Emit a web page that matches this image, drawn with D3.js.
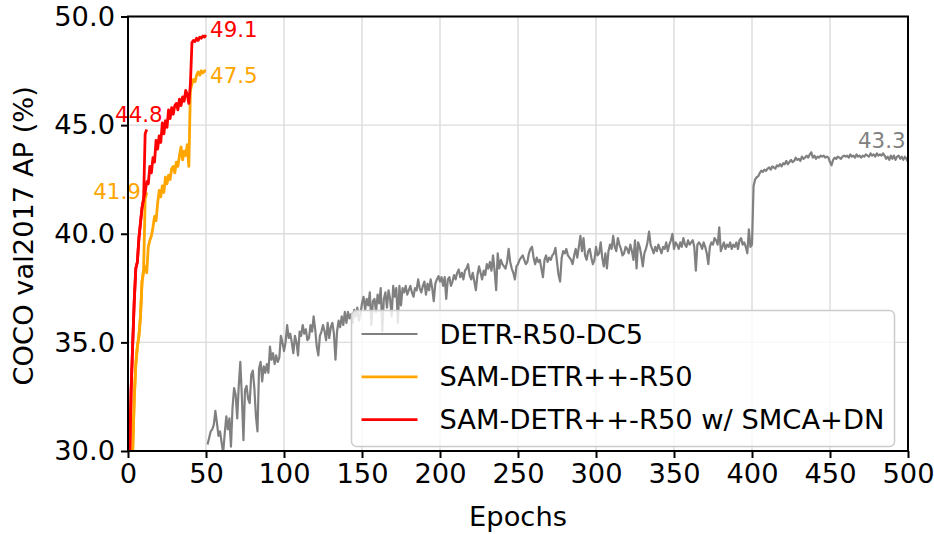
<!DOCTYPE html>
<html><head><meta charset="utf-8">
<script src="https://cdn.jsdelivr.net/npm/d3@7"></script>
<style>body{margin:0;background:#fff} text{font-family:"DejaVu Sans",sans-serif}</style>
</head><body><svg id="chart" width="934" height="534"></svg>
<script>
// ---------- DATA ----------
const xTicks = [0, 50, 100, 150, 200, 250, 300, 350, 400, 450, 500];
const yTicks = [30, 35, 40, 45, 50];
const xLabel = "Epochs";
const yLabel = "COCO val2017 AP (%)";

const seriesNames = ["DETR-R50-DC5", "SAM-DETR++-R50", "SAM-DETR++-R50 w/ SMCA+DN"];
const seriesColors = ["#808080", "#ffa500", "#ff0000"];

// DETR-R50-DC5, one value per epoch starting at epoch 51
const detrFirstEpoch = 51;
const detrValues = [
30.3,30.6,30.9,31.0,31.2,31.85,31.3,30.7,30.9,30.4,29.9,30.8,31.6,31.0,31.5,30.2,32.0,32.9,32.6,31.5,
33.0,34.1,32.5,30.5,32.8,33.0,32.4,32.2,33.5,33.7,32.9,31.6,30.9,33.8,34.1,33.2,33.9,33.6,34.0,33.6,
34.8,34.2,34.5,34.0,34.4,34.1,34.3,35.3,35.0,34.6,
35.0,35.8,35.2,35.4,35.0,34.5,35.3,35.0,34.4,35.5,35.3,35.8,35.4,35.6,35.1,35.2,35.8,35.5,36.2,35.6,
34.8,34.4,35.3,35.5,35.8,35.5,35.1,35.9,35.2,35.7,35.9,35.4,34.2,35.5,36.0,35.7,36.2,35.8,36.4,35.9,
36.4,36.1,36.3,35.9,36.5,36.2,36.6,36.0,36.3,36.8,
37.1,36.5,37.0,36.7,37.3,35.8,36.9,37.0,36.4,37.2,36.8,37.5,35.5,37.0,37.3,36.6,37.4,37.0,36.2,37.6,
37.1,37.5,35.9,37.6,36.7,
37.5,37.3,37.6,37.2,37.4,37.6,37.3,37.1,37.5,37.4,37.9,37.5,37.3,37.6,37.8,37.2,37.7,37.4,37.9,37.5,
36.9,37.7,37.9,38.05,37.8,
38.0,37.6,38.0,37.0,37.9,38.0,37.6,37.8,38.1,37.9,38.2,38.35,38.0,38.2,37.9,38.3,38.4,38.6,38.1,37.9,
38.2,37.8,37.4,38.1,38.5,38.2,37.9,38.3,38.1,38.6,38.4,38.7,38.3,39.0,38.3,37.4,39.1,38.4,38.8,38.6,
38.5,38.4,38.7,39.3,38.7,38.4,38.2,37.9,38.5,38.6,
38.8,38.9,39.0,38.8,38.6,38.7,39.1,39.3,39.4,38.9,38.6,38.9,38.7,38.8,38.4,38.0,38.8,39.0,38.7,38.9,
38.8,39.0,39.1,39.35,38.7,38.1,37.8,38.9,39.2,39.1,39.3,39.0,38.9,38.8,38.6,39.0,39.3,38.9,39.4,39.9,
39.2,39.8,39.0,38.8,39.2,39.3,38.9,38.6,38.8,39.4,
39.0,39.1,39.6,38.9,38.5,39.1,38.4,39.2,39.5,39.3,39.9,39.4,39.2,39.8,39.5,39.3,39.0,39.1,39.4,39.3,
39.1,39.5,39.2,38.8,39.7,38.4,39.6,39.4,39.0,38.5,39.1,39.3,39.6,40.1,39.5,
39.3,39.1,39.4,39.2,39.5,39.3,39.1,39.4,39.3,39.6,39.2,39.5,39.7,40.0,39.3,39.6,39.5,39.3,39.6,39.4,
39.8,39.5,39.4,39.7,39.5,39.6,39.7,39.4,38.3,39.5,39.6,39.5,39.3,39.6,39.4,39.1,38.6,39.4,39.6,39.5,
39.8,39.7,39.5,40.3,39.2,39.4,39.6,39.3,39.5,39.4,39.6,39.3,39.5,39.4,39.6,39.3,39.7,39.8,39.5,39.6,
39.4,39.1,40.2,39.4,39.5,
42.2,42.5,42.6,42.65,42.8,42.9,42.85,42.95,42.9,43.0,43.05,42.95,43.1,43.05,43.0,43.15,43.1,43.2,43.1,43.25,
43.2,43.35,43.2,43.3,43.4,43.3,43.35,43.5,43.4,43.45,43.35,43.55,43.45,43.5,43.6,43.5,43.65,43.75,43.5,43.6,
43.45,43.55,43.5,43.6,43.55,43.6,43.5,43.55,43.5,43.3,43.15,43.4,43.5,43.45,43.55,43.5,43.45,43.55,43.6,43.55,
43.6,43.5,43.65,43.55,43.6,43.5,43.65,43.55,43.6,43.5,43.6,43.55,43.65,43.6,43.55,43.7,43.6,43.65,43.55,43.7,
43.6,43.65,43.6,43.7,43.6,43.45,43.55,43.4,43.6,43.45,43.6,43.4,43.55,43.6,43.45,43.55,43.4,43.55,43.45,43.3
];

// SAM-DETR++-R50: 12-epoch and 50-epoch schedules (epoch 1..N)
const samR50_12ep = [24.5,27.5,30.0,32.4,34.0,34.8,35.3,36.2,37.8,38.3,41.6,41.9];
const samR50_50ep = [24.5,27.5,30.0,32.4,34.0,34.8,35.3,36.2,37.8,38.3,
38.5,38.2,39.4,39.7,39.9,40.3,40.8,40.6,41.4,42.0,41.7,42.2,41.9,42.6,42.3,42.7,42.5,43.0,43.1,42.8,
43.3,43.1,43.6,44.0,43.4,43.8,43.6,44.1,43.1,46.6,46.9,47.1,47.0,47.3,47.45,47.3,47.5,47.4,47.5,47.5];

// SAM-DETR++-R50 w/ SMCA+DN: 12-epoch and 50-epoch schedules (epoch 1..N)
const samSmca_12ep = [29.6,32.8,34.9,36.9,38.4,38.7,39.8,40.5,41.2,41.6,44.6,44.8];
const samSmca_50ep = [29.6,32.8,34.9,36.9,38.4,38.7,39.8,40.5,41.2,41.6,
41.9,42.4,42.3,43.1,42.8,43.5,43.3,44.3,43.9,44.5,44.2,45.1,44.6,45.2,44.9,45.7,45.3,45.8,45.5,45.9,
46.0,45.7,46.2,45.9,46.3,46.1,46.6,46.4,46.0,46.9,48.8,48.9,48.85,49.0,48.9,49.05,49.0,49.1,49.05,49.15];

// value labels: text, anchor point in data coords (epoch, AP), series index
const labelTexts  = ["49.1", "47.5", "44.8", "41.9", "43.3"];
const labelEpochs = [52.6, 52.6, -8.3, -22.3, 467.9];
const labelAPs    = [49.42, 47.30, 45.51, 41.93, 44.31];
const labelSeries = [2, 1, 2, 1, 0];

// ---------- LAYOUT ----------
const W = 934, H = 534;
const FS = 27.3;
const margin = {left: 128, right: 26, top: 16.5, bottom: 83};
const iw = W - margin.left - margin.right, ih = H - margin.top - margin.bottom;
const svg = d3.select("#chart");
svg.append("rect").attr("width", W).attr("height", H).attr("fill", "#fff");
const g = svg.append("g").attr("transform", `translate(${margin.left},${margin.top})`);

const x = d3.scaleLinear().domain([0, 500]).range([0, iw]);
const y = d3.scaleLinear().domain([30, 50]).range([ih, 0]);

svg.append("defs").append("clipPath").attr("id", "clip")
  .append("rect").attr("width", iw).attr("height", ih);

// grid
g.append("g").selectAll("line").data(xTicks).join("line")
  .attr("x1", d => x(d)).attr("x2", d => x(d)).attr("y1", 0).attr("y2", ih)
  .attr("stroke", "#dcdcdc").attr("stroke-width", 1.4);
g.append("g").selectAll("line").data(yTicks).join("line")
  .attr("y1", d => y(d)).attr("y2", d => y(d)).attr("x1", 0).attr("x2", iw)
  .attr("stroke", "#dcdcdc").attr("stroke-width", 1.4);

const line = d3.line().x(d => x(d[0])).y(d => y(d[1]));
const plot = g.append("g").attr("clip-path", "url(#clip)");
const toPts = (vals, start) => vals.map((v, i) => [start + i, v]);

plot.append("path").datum(toPts(detrValues, detrFirstEpoch)).attr("d", line)
  .attr("fill", "none").attr("stroke", seriesColors[0]).attr("stroke-width", 2.2).attr("stroke-linejoin", "round");
[samR50_12ep, samR50_50ep].forEach(s => plot.append("path").datum(toPts(s, 1)).attr("d", line)
  .attr("fill", "none").attr("stroke", seriesColors[1]).attr("stroke-width", 2.8).attr("stroke-linejoin", "round"));
[samSmca_12ep, samSmca_50ep].forEach(s => plot.append("path").datum(toPts(s, 1)).attr("d", line)
  .attr("fill", "none").attr("stroke", seriesColors[2]).attr("stroke-width", 2.8).attr("stroke-linejoin", "round"));

// value labels
labelTexts.forEach((t, i) => {
  g.append("text").attr("x", x(labelEpochs[i])).attr("y", y(labelAPs[i]))
    .attr("dominant-baseline", "central").attr("font-size", 21.4)
    .attr("fill", seriesColors[labelSeries[i]]).text(t);
});

// axes
const xAxis = g.append("g").attr("transform", `translate(0,${ih})`)
  .call(d3.axisBottom(x).tickValues(xTicks).tickFormat(d3.format("d")).tickSize(7).tickPadding(6));
const yAxis = g.append("g")
  .call(d3.axisLeft(y).tickValues(yTicks).tickFormat(d3.format(".1f")).tickSize(7).tickPadding(6));
[xAxis, yAxis].forEach(a => {
  a.select(".domain").remove();
  a.selectAll(".tick line").attr("stroke", "#000").attr("stroke-width", 2);
  a.selectAll(".tick text").attr("font-size", FS).attr("fill", "#000")
   .attr("font-family", "DejaVu Sans");
});
// frame
g.append("rect").attr("width", iw).attr("height", ih).attr("fill", "none")
  .attr("stroke", "#000").attr("stroke-width", 2);

svg.append("text").attr("x", margin.left + iw / 2).attr("y", 526)
  .attr("text-anchor", "middle").attr("font-size", FS).text(xLabel);
svg.append("text").attr("transform", `translate(33,${margin.top + ih / 2 + 2}) rotate(-90)`)
  .attr("text-anchor", "middle").attr("font-size", FS).text(yLabel);

// legend
const leg = svg.append("g").attr("transform", "translate(351.5,310.5)");
leg.append("rect").attr("width", 543).attr("height", 136).attr("rx", 5)
  .attr("fill", "#fff").attr("fill-opacity", 0.8).attr("stroke", "#cccccc").attr("stroke-width", 1.5);
seriesNames.forEach((n, i) => {
  const ly = 23.5 + i * 42.8;
  leg.append("line").attr("x1", 10).attr("x2", 66).attr("y1", ly).attr("y2", ly)
    .attr("stroke", seriesColors[i]).attr("stroke-width", i === 0 ? 2.2 : 2.8);
  leg.append("text").attr("x", 88).attr("y", ly).attr("dominant-baseline", "central")
    .attr("font-size", FS).text(n);
});
</script></body></html>
